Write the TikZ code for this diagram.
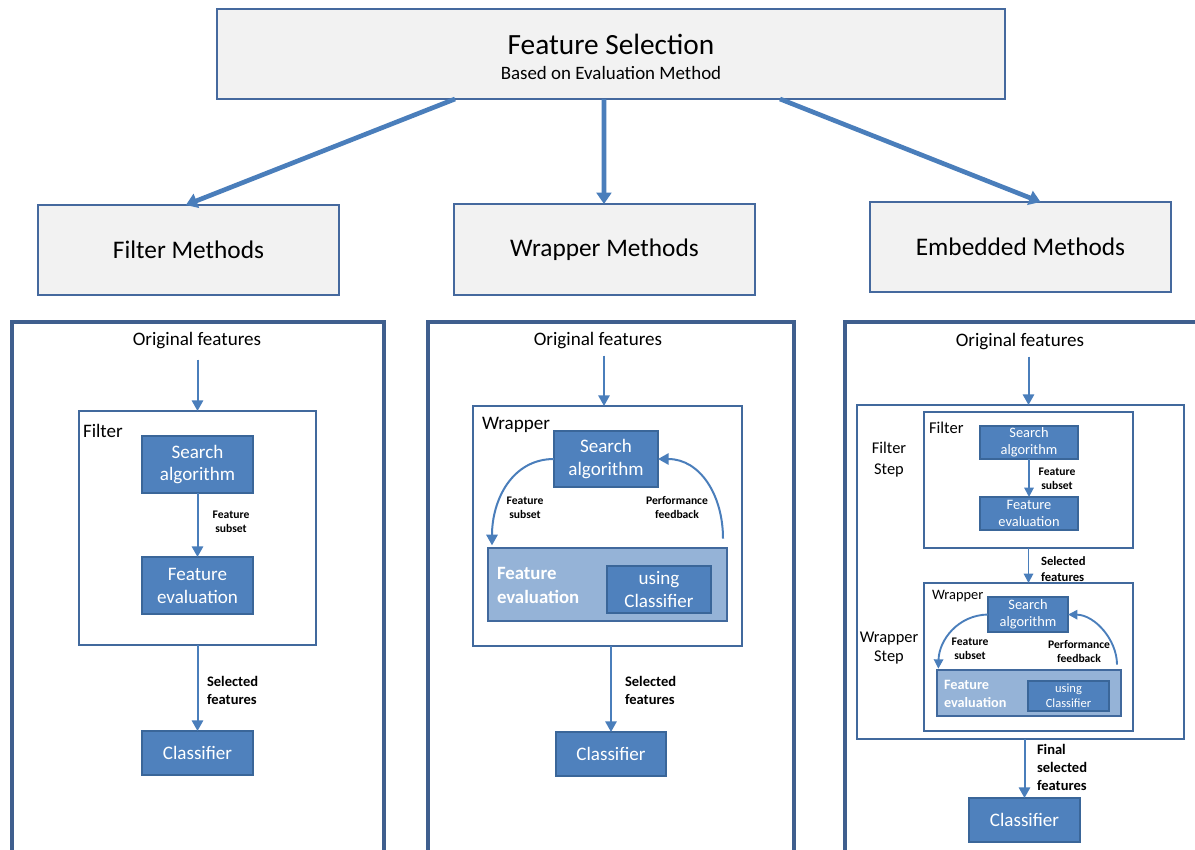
\documentclass[tikz,border=0pt]{standalone}
\usepackage{fontspec}
\setmainfont{Carlito}
\usetikzlibrary{arrows.meta,calc}
\definecolor{hdfill}{HTML}{F2F2F2}
\definecolor{hdline}{HTML}{45699E}
\definecolor{paneline}{HTML}{3F5F8E}
\definecolor{frameline}{HTML}{41699D}
\definecolor{bfill}{HTML}{4F81BD}
\definecolor{bline}{HTML}{3A6699}
\definecolor{lfill}{HTML}{95B3D7}
\definecolor{arr}{HTML}{4A7EBB}
\newcommand\fsz[2]{\fontsize{#1}{#2}\selectfont}
\newcommand\rbox[7]{\node[#6, minimum width={(#4-#2)*0.75pt}, minimum height={(#5-#3)*0.75pt}] (#1) at ({(#2+#4)/2},{(#3+#5)/2}) {#7};}
\tikzset{
  every node/.style={inner sep=0pt, outer sep=0pt},
  headbox/.style={draw=hdline, fill=hdfill, line width=1.2pt, font=\fsz{19}{23}},
  panelbox/.style={draw=paneline, line width=3pt},
  framebox/.style={draw=frameline, fill=white, line width=1.3pt},
  bluebox/.style={draw=bline, fill=bfill, line width=1.1pt, text=white, align=center, font=\fsz{14.3}{17.2}},
  smallblue/.style={bluebox, font=\fsz{10.8}{12.8}},
  lightbox/.style={draw=frameline, fill=lfill, line width=1.3pt},
  txt/.style={font=\fsz{14.3}{17.2}, yshift=-1.2pt},
  lbl/.style={font=\bfseries\fsz{8.7}{10.5}, align=center, yshift=-1pt},
  sel/.style={font=\bfseries\fsz{10.9}{13.5}, align=left, anchor=west, yshift=-1pt},
  conn/.style={draw=arr, line width=1.5pt, -{Triangle[width=8.5pt,length=8pt]}},
  sconn/.style={draw=arr, line width=1.4pt, -{Triangle[width=7pt,length=7pt]}},
  bigconn/.style={draw=arr, line width=3.5pt, -{Triangle[width=11pt,length=8.5pt]}},
}
\begin{document}
\begin{tikzpicture}[x=0.75pt, y=-0.75pt]
\clip (0,0) rectangle (1195,849);
\fill[white] (0,0) rectangle (1195,849);

% ---- top ----
\rbox{top}{217}{9}{1005}{99}{headbox}{}
\node[anchor=base, font=\fsz{22}{26}] (title) at (611,55) {Feature Selection};
\node[anchor=base, font=\fsz{14.2}{17}] (subtitle) at (611,79.5) {Based on Evaluation Method};

\rbox{fm}{38}{205}{339}{295}{headbox}{Filter Methods}
\rbox{wm}{454}{204}{755}{295}{headbox}{Wrapper Methods}
\rbox{em}{870}{202}{1171}{292}{headbox}{Embedded Methods}

\draw[bigconn] ([xshift=-117pt]top.south) -- ([xshift=-2pt]fm.north);
\draw[bigconn] ([xshift=-5.25pt]top.south) -- ([xshift=-0.4pt]wm.north);
\draw[bigconn] ([xshift=126.75pt]top.south) -- ([xshift=15pt]em.north);

% ---- panels ----
\rbox{p1}{12}{322}{384}{900}{panelbox}{}
\rbox{p2}{428}{322}{794}{900}{panelbox}{}
\rbox{p3}{845}{322}{1230}{900}{panelbox}{}

% ---- panel 1: filter ----
\node[txt] (of1) at (197,339) {Original features};
\rbox{fb1}{79}{411}{316}{645}{framebox}{}
\node[txt, anchor=west] (fl1) at (83,429) {Filter};
\rbox{sa1}{142}{436}{253}{493}{bluebox}{Search\\algorithm}
\rbox{fe1}{142}{557}{253}{614}{bluebox}{Feature\\evaluation}
\rbox{cl1}{142}{731}{253}{775}{bluebox}{Classifier}
\draw[conn, shorten <=8pt] (of1.south -| fb1.north) -- (fb1.north);
\draw[conn] (sa1) -- (fe1);
\draw[conn] (fb1.south -| cl1.north) -- (cl1.north);
\node[lbl] (fs1) at (231,520) {Feature\\subset};
\node[sel] (sf1) at (207,689) {Selected\\features};

% ---- panel 2: wrapper ----
\node[txt] (of2) at (598,339) {Original features};
\rbox{wb2}{473}{406}{742}{646}{framebox}{}
\node[txt, anchor=west] (wl2) at (482,423) {Wrapper};
\rbox{sa2}{554}{431}{658}{487}{bluebox}{Search\\algorithm}
\rbox{fo2}{488}{548}{727}{621}{lightbox}{}
\node[anchor=west, align=left, text=white, font=\bfseries\fsz{14.1}{18}] (ft2) at (497,585) {Feature\\evaluation};
\rbox{uc2}{607}{566}{711}{613}{bluebox}{using\\Classifier}
\rbox{cl2}{556}{732}{666}{776}{bluebox}{Classifier}
\draw[conn, shorten <=5pt] (of2.south -| 604,0) -- (wb2.north -| 604,0);
\draw[conn] (sa2.west) .. controls (512,459) and (492,500) .. ([xshift=3pt,yshift=2pt]fo2.north west);
\draw[conn] ([xshift=-3pt,yshift=7pt]fo2.north east) .. controls (723,495) and (700,459) .. (sa2.east);
\node[lbl] (fs2) at (525,506) {Feature\\subset};
\node[lbl] (pf2) at (677,506) {Performance\\feedback};
\draw[conn] (wb2.south -| cl2.north) -- (cl2.north);
\node[sel] (sf2) at (625,689) {Selected\\features};

% ---- panel 3: embedded ----
\node[txt] (of3) at (1020,340) {Original features};
\rbox{ob3}{857}{405}{1184}{739}{framebox}{}
\rbox{fb3}{924}{412}{1133}{548}{framebox}{}
\node[anchor=west, font=\fsz{12.4}{15}] (fl3) at (929,428) {Filter};
\node[align=center, font=\fsz{12.3}{15.75}] (fst3) at (889,460) {Filter\\Step};
\rbox{sa3}{980}{426}{1078}{459}{smallblue}{Search\\algorithm}
\rbox{fe3}{980}{497}{1078}{530}{smallblue}{Feature\\evaluation}
\draw[sconn] (sa3) -- (fe3);
\node[lbl] (fs3) at (1057,477) {Feature\\subset};
\draw[conn, shorten <=5pt] (of3.south -| fb3.north) -- (ob3.north -| fb3.north);

\rbox{wb3}{924}{583}{1133}{731}{framebox}{}
\draw[sconn] (fb3.south) -- (wb3.north);
\node[sel, font=\bfseries\fsz{9.5}{12}] (sf3) at (1041,568) {Selected\\features};
\node[anchor=west, font=\fsz{10.8}{13}] (wl3) at (932,596) {Wrapper};
\node[align=center, font=\fsz{12.3}{14.25}] (wst3) at (889,648) {Wrapper\\Step};
\rbox{sa3w}{988}{597}{1068}{632}{smallblue}{Search\\algorithm}
\rbox{fo3}{937}{670}{1121}{716}{lightbox}{}
\node[anchor=west, align=left, text=white, font=\bfseries\fsz{10.7}{13.5}] (ft3) at (944,694) {Feature\\evaluation};
\rbox{uc3}{1028}{681}{1109}{711}{bluebox}{}
\node[text=white, align=center, font=\fsz{9.4}{11.25}] (uct3) at (uc3) {using\\Classifier};
\draw[sconn] (sa3w.west) .. controls (958,615) and (939,640) .. ([xshift=1pt,yshift=1pt]fo3.north west);
\draw[sconn] ([xshift=-3pt,yshift=4pt]fo3.north east) .. controls (1117,640) and (1095,615) .. (sa3w.east);
\node[lbl] (fs3w) at (970,647) {Feature\\subset};
\node[lbl] (pf3w) at (1079,650) {Performance\\feedback};

\rbox{cl3}{969}{798}{1080}{842}{bluebox}{Classifier}
\draw[conn] (ob3.south -| cl3.north) -- (cl3.north);
\node[sel] (fsf3) at (1037,766) {Final\\selected\\features};
\end{tikzpicture}
\end{document}
